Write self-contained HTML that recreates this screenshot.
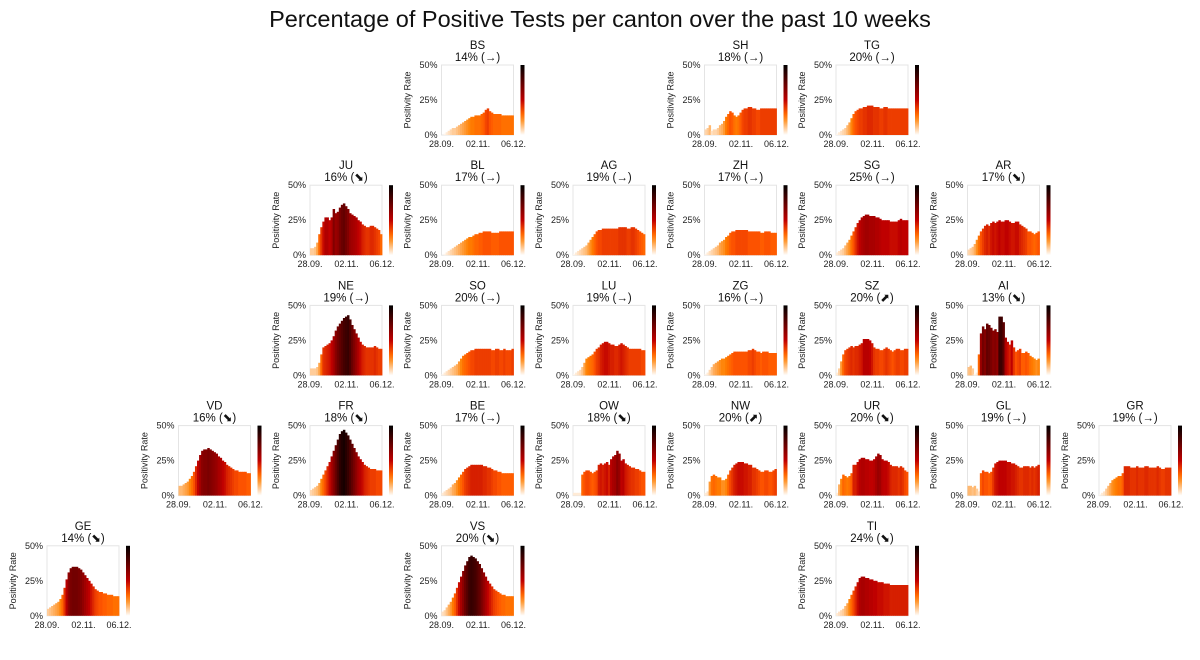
<!DOCTYPE html>
<html><head><meta charset="utf-8"><style>
html,body{margin:0;padding:0;background:#fff;}
svg{display:block;font-family:"Liberation Sans","DejaVu Sans",sans-serif;}
</style></head><body>
<svg id="chart" width="1200" height="660" viewBox="0 0 1200 660" xmlns="http://www.w3.org/2000/svg">
<text x="600" y="27" text-anchor="middle" font-size="23.5" fill="#111">Percentage of Positive Tests per canton over the past 10 weeks</text>
<g id="panels"></g>
</svg>
<script>
const xTickLabels = ["28.09.", "02.11.", "06.12."];
const yTickLabels = ["0%", "25%", "50%"];
const yTickValues = [0, 25, 50];
const cantonNames = ["BS","SH","TG","JU","BL","AG","ZH","SG","AR","NE","SO","LU","ZG","SZ","AI","VD","FR","BE","OW","NW","UR","GL","GR","GE","VS","TI"];
const cantonLatest = ["14%","18%","20%","16%","17%","19%","17%","25%","17%","19%","20%","19%","16%","20%","13%","16%","18%","17%","18%","20%","20%","19%","19%","14%","20%","24%"];
const cantonTrend = ["→","→","→","⬊","→","→","→","→","⬊","→","→","→","→","⬈","⬊","⬊","⬊","→","⬊","⬈","⬊","→","→","⬊","⬊","⬊"];
const BS=[0,1,2,3,4,5,5,6,7,8,9,10,11,12,13,13,14,14,14,15,16,18,19,17,16,15,15,15,15,14,14,14,14,14,14];
const SH=[4,5,7,3,4,4,5,7,8,10,13,15,17,16,14,13,14,16,18,19,19,20,20,19,19,18,18,19,19,19,19,19,19,19,19];
const TG=[1,2,3,4,5,7,9,12,15,17,18,19,19,20,20,21,21,21,20,20,20,19,19,20,20,19,19,19,19,19,19,19,19,19,19];
const JU=[5,5,6,9,15,20,24,27,27,25,27,33,30,31,34,36,37,35,33,30,29,28,27,25,24,22,21,20,20,21,21,20,19,18,15];
const BL=[0,1,2,3,4,5,6,7,8,9,10,11,12,13,13,14,15,15,16,16,17,17,17,17,16,16,16,16,17,17,17,17,17,17,17];
const AG=[1,2,3,4,5,6,7,9,11,13,15,17,18,18,19,19,19,19,19,19,19,19,20,20,20,20,19,19,20,20,19,18,17,16,15];
const ZH=[1,2,3,4,5,6,7,9,10,11,13,14,16,17,17,18,18,18,18,18,18,17,17,17,17,17,17,16,16,17,17,17,16,16,16];
const SG=[2,3,4,5,7,9,11,14,17,20,23,25,27,28,29,29,28,28,28,27,27,26,25,25,25,25,24,24,24,24,25,26,25,25,25];
const AR=[4,5,6,8,11,14,17,19,21,22,21,23,24,23,24,25,24,24,25,25,24,23,23,24,24,22,21,20,19,17,17,16,15,16,17];
const NE=[5,5,5,6,9,15,20,21,22,23,25,28,32,35,37,39,41,42,43,40,36,33,30,27,24,22,21,20,20,20,20,21,20,19,19];
const SO=[1,2,3,4,5,6,7,8,10,12,14,15,16,17,18,18,19,19,19,19,19,19,19,19,18,18,19,19,18,18,19,18,18,18,19];
const LU=[1,2,3,4,6,9,12,13,14,15,17,19,20,22,23,24,24,23,22,22,21,21,22,23,22,21,20,19,19,19,19,19,19,18,18];
const ZG=[1,2,4,6,8,9,10,11,12,12,13,14,15,16,17,17,17,17,17,17,17,18,18,19,18,17,17,16,17,17,17,16,16,16,16];
const SZ=[2,5,10,15,18,19,20,21,20,21,21,22,23,26,26,26,25,23,20,19,19,18,18,19,20,19,18,17,18,19,19,18,18,19,19];
const AI=[6,7,5,1,2,15,30,35,33,37,36,34,32,33,31,42,42,38,27,24,22,25,20,17,18,19,16,16,17,16,14,13,12,11,12];
const VD=[7,7,8,9,10,12,14,17,21,25,29,32,33,33,34,33,32,31,30,28,27,25,24,22,21,20,19,18,18,17,17,17,17,16,16];
const FR=[4,5,6,7,9,12,15,18,21,24,28,32,36,40,44,46,47,45,43,40,37,34,31,28,26,24,22,21,20,19,19,19,18,18,18];
const BE=[2,3,4,5,6,8,9,11,13,15,17,19,20,21,22,22,22,22,22,22,21,21,20,20,19,18,18,17,17,16,16,16,16,16,16];
const OW=[2,2,2,2,15,17,18,18,17,16,17,18,22,23,22,23,24,22,26,28,29,32,30,25,26,23,22,21,20,20,19,19,18,17,17];
const NW=[2,3,10,14,15,14,13,13,11,11,12,15,18,20,22,23,24,24,24,23,23,22,22,20,20,19,18,17,17,18,18,17,17,18,19];
const UR=[2,8,12,15,14,13,14,16,22,22,24,26,27,27,26,26,25,25,26,28,30,29,26,25,25,24,22,21,21,21,20,21,20,18,17];
const GL=[7,7,6,7,5,3,16,18,17,17,16,17,20,23,24,25,25,25,25,24,24,23,23,22,21,20,20,21,21,21,20,21,20,21,22];
const GR=[1,2,3,5,7,9,11,12,13,14,14,16,21,21,21,20,20,20,21,20,20,20,21,21,20,20,20,20,21,20,19,19,20,20,20];
const GE=[5,6,7,8,9,10,12,15,20,26,31,34,35,35,35,34,33,31,29,27,25,23,21,19,18,17,17,16,16,15,15,15,14,14,14];
const VS=[3,4,6,8,10,13,16,20,24,28,32,36,39,42,43,42,41,39,37,34,31,28,25,23,21,19,18,17,16,15,15,14,14,14,14];
const TI=[2,3,4,5,7,9,12,15,18,21,24,27,28,28,27,27,26,26,25,25,24,24,24,23,23,23,22,22,22,22,22,22,22,22,22];
const cantonSeries = [BS,SH,TG,JU,BL,AG,ZH,SG,AR,NE,SO,LU,ZG,SZ,AI,VD,FR,BE,OW,NW,UR,GL,GR,GE,VS,TI];
const gridCol = [3,5,6,2,3,4,5,6,7,2,3,4,5,6,7,1,2,3,4,5,6,7,8,0,3,6];
const gridRow = [0,0,0,1,1,1,1,1,1,2,2,2,2,2,2,3,3,3,3,3,3,3,3,4,4,4];

const NS="http://www.w3.org/2000/svg";
const PW=72, PH=70, VMAX=50;
function cmap(t){
  const v=1-Math.max(0,Math.min(1,t));
  const c=x=>Math.round(255*Math.max(0,Math.min(1,x)));
  return `rgb(${c(1.5*v)},${c(2*v-1)},${c(4*v-3)})`;
}
function mk(tag,attrs,parent){const e=document.createElementNS(NS,tag);for(const k in attrs)e.setAttribute(k,attrs[k]);parent.appendChild(e);return e;}
const root=document.getElementById('panels');
const defs=mk('defs',{},root);
const grad=mk('linearGradient',{id:'cbg',x1:0,y1:1,x2:0,y2:0},defs);
for(let i=0;i<=10;i++){mk('stop',{offset:i/10,'stop-color':cmap(i/10)},grad);}

cantonNames.forEach((name,i)=>{
  const L=47+131.5*gridCol[i], T=65+120.2*gridRow[i];
  const data=cantonSeries[i];
  const xs=d=>L+d*PW/data.length;
  const ys=v=>T+PH-v/VMAX*PH;
  const g=mk('g',{},root);
  
  
  const t1=mk('text',{x:L+PW/2,y:T-16,'text-anchor':'middle','font-size':11.5,fill:'#111'},g);
  t1.textContent=name;
  
  
  const t2=mk('text',{x:L+PW/2,y:T-4,'text-anchor':'middle','font-size':11.5,fill:'#111'},g);
  t2.textContent=cantonLatest[i]+' ('+cantonTrend[i]+')';
  
  
  const fr=mk('rect',{x:L,y:T,width:PW,height:PH,fill:'#fff',stroke:'#e4e4e4','stroke-width':1},g);
  
  
  data.forEach((v,d)=>{
    const b=mk('rect',{x:xs(d),y:ys(v),width:PW/data.length+0.4,height:T+PH-ys(v),fill:cmap(v/VMAX)},g);
    
    
  });
  yTickValues.forEach((tv,k)=>{
    const yt=mk('text',{x:L-4,y:ys(tv)+3,'text-anchor':'end','font-size':9,fill:'#222'},g);
    yt.textContent=yTickLabels[k];
    
    
  });
  const xpos=[0,0.507,1];
  xTickLabels.forEach((lab,k)=>{
    const xt=mk('text',{x:L+xpos[k]*PW,y:T+PH+12,'text-anchor':'middle','font-size':9,fill:'#222'},g);
    xt.textContent=lab;
    
    
  });
  const ya=mk('text',{x:0,y:0,'text-anchor':'middle','font-size':9,fill:'#222',transform:`translate(${L-31},${T+PH/2}) rotate(-90)`},g);
  ya.textContent='Positivity Rate';
  
  
  const cb=mk('rect',{x:L+79,y:T,width:4,height:PH,fill:'url(#cbg)'},g);
  
  
});
</script>
</body></html>
